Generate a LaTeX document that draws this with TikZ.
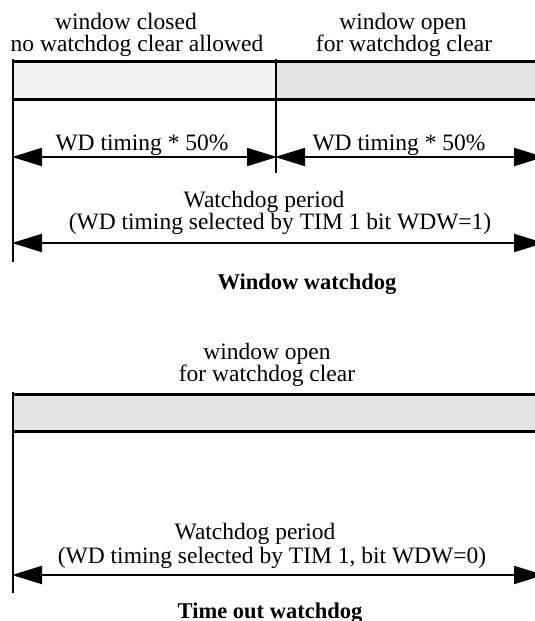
\documentclass[tikz,border=0pt]{standalone}
\usepackage{fontspec}
\setmainfont{Liberation Serif}
\usetikzlibrary{arrows.meta}
\definecolor{closedfill}{HTML}{F2F2F2}
\definecolor{openfill}{HTML}{E3E3E3}
\tikzset{
  lbl/.style={font=\fontsize{23.5}{23.5}\selectfont, inner sep=0pt, anchor=base},
  ttl/.style={font=\fontsize{22.5}{22.5}\selectfont\bfseries, inner sep=0pt, anchor=base},
  barline/.style={line width=3pt},
  tick/.style={line width=2.5pt},
  span/.style={line width=2.2pt, {Triangle[length=30pt,width=18pt]}-{Triangle[length=30pt,width=18pt]}, shorten <=-1pt, shorten >=-1pt}
}
\begin{document}
\begin{tikzpicture}[x=1pt,y=-1pt]
\useasboundingbox (0,0) rectangle (535,621);

% ---------- Window watchdog ----------
\fill[closedfill] (13,61) rectangle (276,99);
\fill[openfill] (276,61) rectangle (550,99);
\draw[barline] (13,61) -- (550,61);
\draw[barline] (13,99) -- (550,99);

\coordinate (a0) at (13,157);
\coordinate (a1) at (276,157);
\coordinate (a2) at (543,157);
\coordinate (p0) at (13,243);
\coordinate (p1) at (543,243);

\draw[tick] (13,59) -- (13,262);
\draw[tick] (276,59) -- (276,173);

\draw[span] (a0) -- (a1);
\draw[span] (a1) -- (a2);
\draw[span] (p0) -- (p1);

\node[lbl] (c1) at (126,29) {window closed};
\node[lbl] (c2) at (137,51) {no watchdog clear allowed};
\node[lbl] (o1) at (403,29) {window open};
\node[lbl] (o2) at (404,51) {for watchdog clear};
\node[lbl] (h1) at (142,150) {WD timing * 50\%};
\node[lbl] (h2) at (399,150) {WD timing * 50\%};
\node[lbl] (w1) at (264,207) {Watchdog period};
\node[lbl] (w2) at (280,229) {(WD timing selected by TIM 1 bit WDW=1)};
\node[ttl] (t1) at (307,289) {Window watchdog};

% ---------- Time out watchdog ----------
\fill[openfill] (13,394) rectangle (550,431);
\draw[barline] (13,394) -- (550,394);
\draw[barline] (13,431) -- (550,431);
\draw[tick] (13,392) -- (13,593);

\coordinate (q0) at (13,575);
\coordinate (q1) at (543,575);
\draw[span] (q0) -- (q1);

\node[lbl] (b1) at (267,359) {window open};
\node[lbl] (b2) at (267,381) {for watchdog clear};
\node[lbl] (v1) at (255,539) {Watchdog period};
\node[lbl] (v2) at (272,563) {(WD timing selected by TIM 1, bit WDW=0)};
\node[ttl] (t2) at (270,618) {Time out watchdog};
\end{tikzpicture}
\end{document}
